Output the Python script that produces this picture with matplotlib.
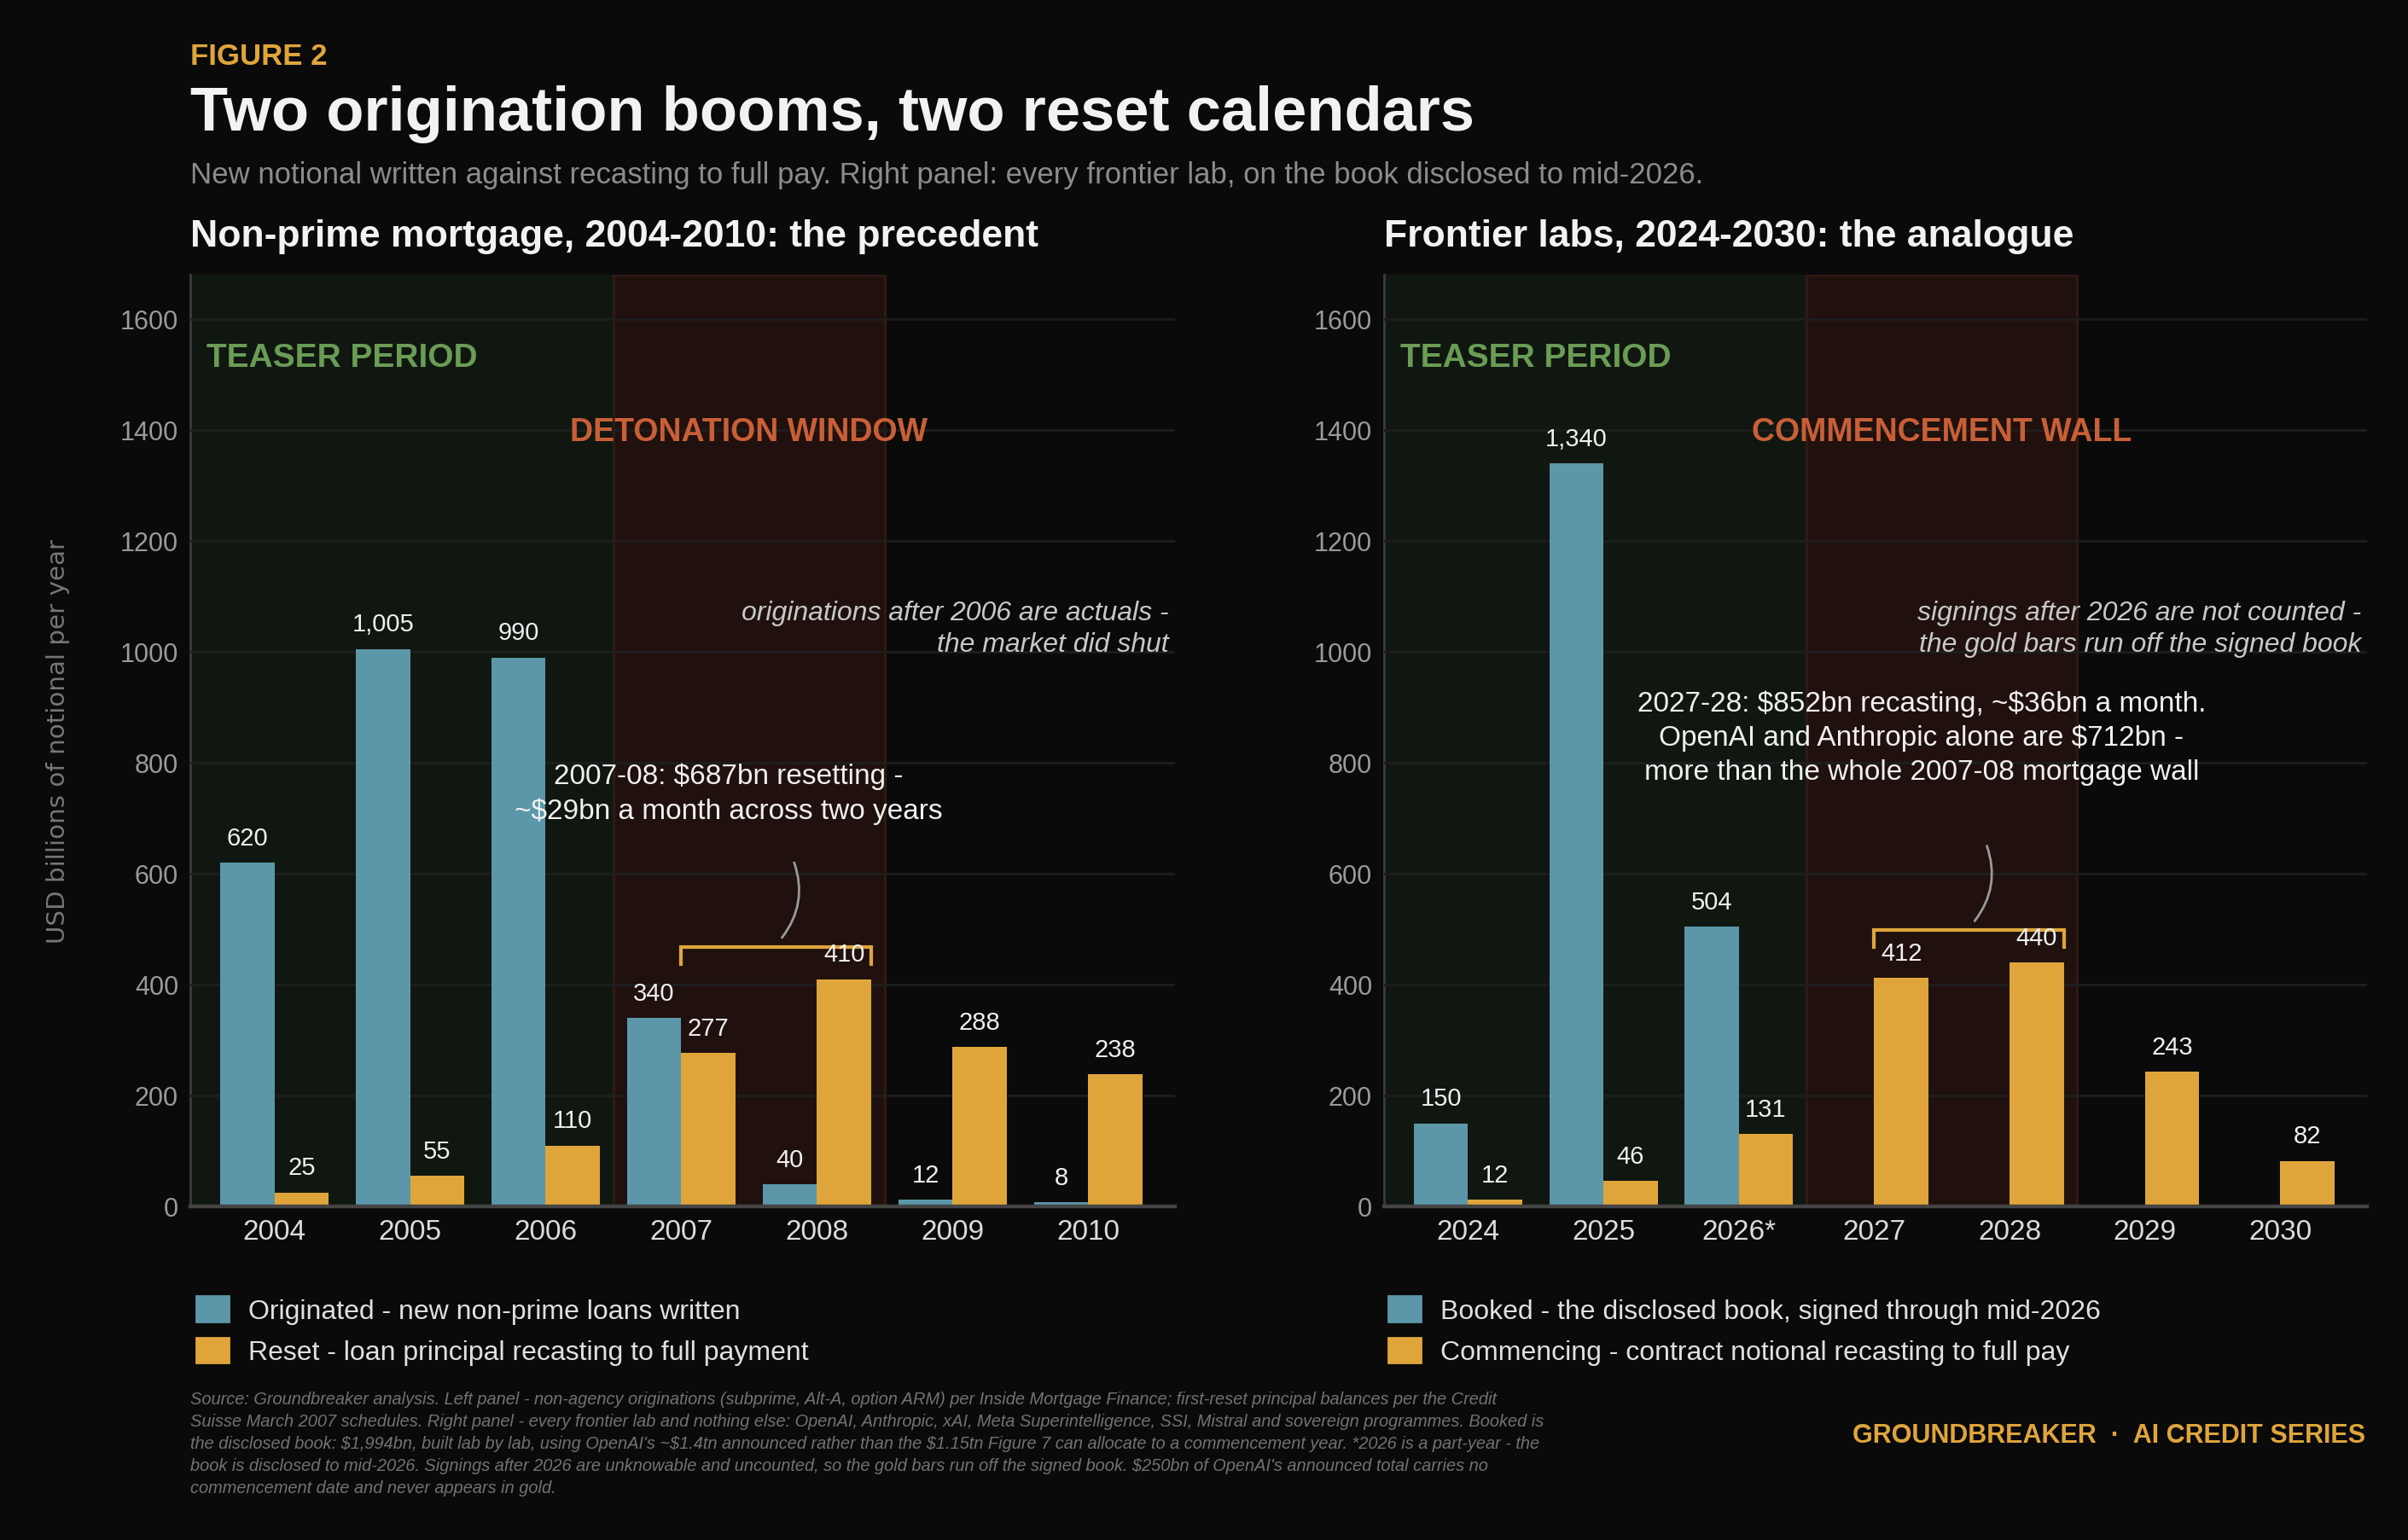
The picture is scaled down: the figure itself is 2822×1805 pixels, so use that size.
import matplotlib
matplotlib.use("Agg")
import matplotlib.pyplot as plt
from matplotlib.patches import Patch

# --- data -------------------------------------------------------------
mort_years = ["2004", "2005", "2006", "2007", "2008", "2009", "2010"]
mort_originated = [620, 1005, 990, 340, 40, 12, 8]
mort_reset = [25, 55, 110, 277, 410, 288, 238]

lab_years = ["2024", "2025", "2026*", "2027", "2028", "2029", "2030"]
lab_booked = [150, 1340, 504, None, None, None, None]
lab_commencing = [12, 46, 131, 412, 440, 243, 82]

y_ticks = [0, 200, 400, 600, 800, 1000, 1200, 1400, 1600]

# --- style ------------------------------------------------------------
BG = "#0a0a0a"
BLUE = "#5b97a9"
GOLD = "#dfa53b"
GREEN_TXT = "#6a9c55"
RED_TXT = "#c85f37"
GRID = "#1e1e1e"
SPINE = "#3c3c3c"

plt.rcParams["font.family"] = ["Liberation Sans", "DejaVu Sans"]
plt.rcParams["text.parse_math"] = False

W, H = 2822, 1806
fig = plt.figure(figsize=(W / 200, H / 200), dpi=200, facecolor=BG)


def fx(px):
    return px / W


def fy(py):
    return 1 - py / H


def draw_panel(ax, years, blue, gold, zone_label, note, callout, callout_fs):
    ax.set_facecolor(BG)
    n = len(years)
    xs = list(range(n))
    ax.set_xlim(-0.62, n - 1 + 0.64)
    ax.set_ylim(0, 1680)

    ax.axvspan(-0.62, 2.5, color="#101710", zorder=0, lw=0)
    ax.axvspan(2.5, 4.5, facecolor="#20110e", edgecolor="#2e1a14", lw=1.2, zorder=0)

    ax.set_yticks(y_ticks)
    ax.grid(axis="y", color=GRID, lw=1.0, zorder=1)
    ax.set_axisbelow(False)

    w = 0.4
    for i in xs:
        if blue[i] is not None:
            ax.bar(i - w / 2, blue[i], width=w, color=BLUE, zorder=3)
            ax.annotate(f"{blue[i]:,}", (i - w / 2, blue[i]), xytext=(0, 5.5),
                        textcoords="offset points", ha="center", va="bottom",
                        fontsize=10.5, color="#f0f0f0", zorder=5)
        ax.bar(i + w / 2, gold[i], width=w, color=GOLD, zorder=3)
        ax.annotate(f"{gold[i]:,}", (i + w / 2, gold[i]), xytext=(0, 5.5),
                    textcoords="offset points", ha="center", va="bottom",
                    fontsize=10.5, color="#f0f0f0", zorder=5)

    ax.set_xticks(xs)
    ax.set_xticklabels(years, fontsize=12, color="#dcdcdc")
    ax.tick_params(axis="x", length=0, pad=5)
    ax.tick_params(axis="y", length=0, pad=5, labelsize=11, labelcolor="#9a9a9a")

    for s in ("top", "right"):
        ax.spines[s].set_visible(False)
    ax.spines["left"].set_color(SPINE)
    ax.spines["left"].set_linewidth(1.0)
    ax.spines["bottom"].set_color("#444444")
    ax.spines["bottom"].set_linewidth(1.6)
    ax.spines["bottom"].set_zorder(6)

    ax.text(-0.5, 1531, "TEASER PERIOD", fontsize=14, fontweight="bold",
            color=GREEN_TXT, ha="left", va="center", zorder=4)
    ax.text(3.5, 1397, zone_label, fontsize=13.5, fontweight="bold",
            color=RED_TXT, ha="center", va="center", zorder=4)

    ax.text(0.994, 0.651, note, transform=ax.transAxes, fontsize=11.5,
            style="italic", color="#c8c8c8", ha="right", va="top",
            linespacing=1.3, zorder=4)

    # bracket over the 2 reset years
    top = max(gold[3], gold[4]) + 58
    ax.plot([3.0, 3.0, 4.4, 4.4], [top - 31, top, top, top - 31],
            color=GOLD, lw=1.5, zorder=4, solid_joinstyle="miter")

    text, tx, ty = callout
    ax.text(tx, ty, text, fontsize=callout_fs, color="#f0f0f0",
            ha="center", va="center", linespacing=1.35, zorder=5)
    ax.annotate("", xy=(3.72, top + 10), xytext=(3.82, top + 160),
                arrowprops=dict(arrowstyle="-", color="#9a9a9a", lw=1.0,
                                connectionstyle="arc3,rad=-0.3"), zorder=4)


ax1 = fig.add_axes([fx(223), fy(1415), fx(1154), 1092 / H])
ax2 = fig.add_axes([fx(1622), fy(1415), fx(1152), 1092 / H])

draw_panel(ax1, mort_years, mort_originated, mort_reset, "DETONATION WINDOW",
           "originations after 2006 are actuals -\nthe market did shut",
           ("2007-08: $687bn resetting -\n~$29bn a month across two years", 3.35, 745),
           12)
draw_panel(ax2, lab_years, lab_booked, lab_commencing, "COMMENCEMENT WALL",
           "signings after 2026 are not counted -\nthe gold bars run off the signed book",
           ("2027-28: $852bn recasting, ~$36bn a month.\nOpenAI and Anthropic alone are $712bn -\n"
            "more than the whole 2007-08 mortgage wall", 3.35, 846),
           12)

ax1.set_ylabel("USD billions of notional per year", fontsize=10.6, color="#777777",
               family="DejaVu Sans", labelpad=21)

# --- headings ---------------------------------------------------------
fig.text(fx(223), fy(76), "FIGURE 2", fontsize=12.5, fontweight="bold", color=GOLD, va="baseline")
fig.text(fx(223), fy(153), "Two origination booms, two reset calendars", fontsize=26,
         fontweight="bold", color="#f2f2f2", va="baseline")
fig.text(fx(223), fy(215),
         "New notional written against recasting to full pay. Right panel: every frontier lab, "
         "on the book disclosed to mid-2026.", fontsize=12.5, color="#8c8c8c", va="baseline")
fig.text(fx(223), fy(289), "Non-prime mortgage, 2004-2010: the precedent", fontsize=16,
         fontweight="bold", color="#f2f2f2", va="baseline")
fig.text(fx(1622), fy(289), "Frontier labs, 2024-2030: the analogue", fontsize=16,
         fontweight="bold", color="#f2f2f2", va="baseline")

# --- legends ----------------------------------------------------------
leg_kw = dict(loc="upper left", frameon=False, fontsize=11.5, labelcolor="#e0e0e0",
              handlelength=1.18, handleheight=1.05, handletextpad=0.72,
              labelspacing=0.5, borderpad=0, borderaxespad=0)
fig.legend(handles=[Patch(color=BLUE, label="Originated - new non-prime loans written"),
                    Patch(color=GOLD, label="Reset - loan principal recasting to full payment")],
           bbox_to_anchor=(fx(230), fy(1520)), **leg_kw)
fig.legend(handles=[Patch(color=BLUE, label="Booked - the disclosed book, signed through mid-2026"),
                    Patch(color=GOLD, label="Commencing - contract notional recasting to full pay")],
           bbox_to_anchor=(fx(1627), fy(1520)), **leg_kw)

# --- footer -----------------------------------------------------------
source = (
    "Source: Groundbreaker analysis. Left panel - non-agency originations (subprime, Alt-A, option ARM) "
    "per Inside Mortgage Finance; first-reset principal balances per the Credit\n"
    "Suisse March 2007 schedules. Right panel - every frontier lab and nothing else: OpenAI, Anthropic, "
    "xAI, Meta Superintelligence, SSI, Mistral and sovereign programmes. Booked is\n"
    "the disclosed book: $1,994bn, built lab by lab, using OpenAI's ~$1.4tn announced rather than the "
    "$1.15tn Figure 7 can allocate to a commencement year. *2026 is a part-year - the\n"
    "book is disclosed to mid-2026. Signings after 2026 are unknowable and uncounted, so the gold bars "
    "run off the signed book. $250bn of OpenAI's announced total carries no\n"
    "commencement date and never appears in gold."
)
fig.text(fx(223), fy(1631), source, fontsize=7.2, style="italic", color="#727272",
         va="top", linespacing=1.46)
fig.text(fx(2772), fy(1691), "GROUNDBREAKER  \u00b7  AI CREDIT SERIES", fontsize=11,
         fontweight="bold", color=GOLD, ha="right", va="baseline")

fig.savefig("out.png", dpi=200, facecolor=BG)
